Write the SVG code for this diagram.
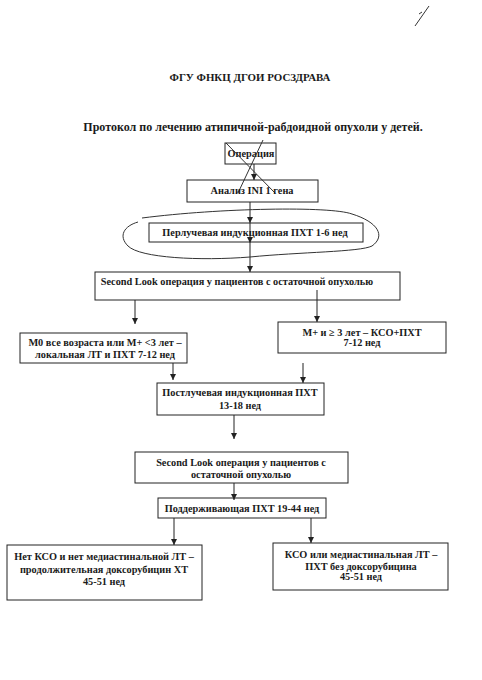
<svg xmlns="http://www.w3.org/2000/svg" width="482" height="680" viewBox="0 0 482 680">
<style>
.box{fill:none;stroke:#222;stroke-width:1}
.t{font-family:"Liberation Serif","Times New Roman",serif;font-weight:bold;font-size:10.3px;fill:#1a1a1a;text-anchor:middle}
.c{fill:none;stroke:#222;stroke-width:1}
.h{fill:none;stroke:#333;stroke-width:1}
</style>
<defs>
<marker id="ar" markerWidth="8" markerHeight="8" refX="6" refY="3" orient="auto" markerUnits="userSpaceOnUse">
<path d="M0,0 L6,3 L0,6 Z" fill="#222"/>
</marker>
</defs>
<rect width="482" height="680" fill="#fff"/>
<path class="h" d="M415,26 L429,6 M419,14 L422,12" stroke-width="1.3"/>
<text x="250" y="81" class="t" style="font-size:10.9px">ФГУ  ФНКЦ  ДГОИ  РОСЗДРАВА</text>
<text x="253" y="131" class="t" style="font-size:12px">Протокол по лечению атипичной-рабдоидной опухоли у детей.</text>

<g id="connectors">
<line class="c" x1="254" y1="164" x2="254" y2="180" marker-end="url(#ar)"/>
<line class="c" x1="250" y1="202" x2="250" y2="223" marker-end="url(#ar)"/>
<line class="c" x1="250" y1="223" x2="250" y2="243" marker-end="url(#ar)"/>
<line class="c" x1="250" y1="243" x2="250" y2="272" marker-end="url(#ar)"/>
<line class="c" x1="135" y1="300" x2="135" y2="324" marker-end="url(#ar)"/>
<line class="c" x1="317" y1="290" x2="317" y2="322" marker-end="url(#ar)"/>
<line class="c" x1="173" y1="363" x2="173" y2="380" marker-end="url(#ar)"/>
<line class="c" x1="303" y1="363" x2="303" y2="383" marker-end="url(#ar)"/>
<line class="c" x1="234" y1="415" x2="234" y2="439" marker-end="url(#ar)"/>
<line class="c" x1="234" y1="483" x2="234" y2="500" marker-end="url(#ar)"/>
<line class="c" x1="174" y1="518" x2="174" y2="545" marker-end="url(#ar)"/>
<line class="c" x1="311" y1="518" x2="311" y2="543" marker-end="url(#ar)"/>
</g>

<g id="n-operation">
<rect class="box" x="225" y="143" width="51" height="21"/>
<text x="251" y="157" class="t">Операция</text>
<line class="h" x1="226" y1="143" x2="275" y2="193"/>
<line class="h" x1="263" y1="140" x2="238" y2="193"/>
</g>
<g id="n-analysis">
<rect class="box" x="187" y="180" width="131" height="22"/>
<text x="252" y="194" class="t">Анализ INI 1 гена</text>
</g>
<g id="n-preradiation">
<rect class="box" x="149" y="223" width="214" height="19"/>
<text x="255" y="236" class="t">Перлучевая индукционная ПХТ 1-6 нед</text>
<path class="h" d="M142,218 C220,208 330,206 352,214 C378,222 386,236 372,246 C360,252 300,252 250,257 C200,261 140,258 128,246 C118,236 124,226 138,222"/>
</g>
<g id="n-secondlook1">
<rect class="box" x="95" y="272" width="305" height="28"/>
<text x="237" y="285" class="t">Second Look операция у пациентов с остаточной опухолью</text>
</g>
<g id="n-m0">
<rect class="box" x="20" y="333" width="167" height="30"/>
<text x="105" y="346" class="t">M0 все возраста или M+ &lt;3 лет –</text>
<text x="105" y="358" class="t">локальная ЛТ и ПХТ 7-12 нед</text>
</g>
<g id="n-mplus">
<rect class="box" x="278" y="322" width="168" height="31"/>
<text x="362" y="336" class="t">M+ и ≥ 3 лет – КСО+ПХТ</text>
<text x="362" y="346" class="t">7-12 нед</text>
</g>
<g id="n-postradiation">
<rect class="box" x="157" y="383" width="167" height="32"/>
<text x="240" y="396" class="t">Постлучевая индукционная ПХТ</text>
<text x="240" y="409" class="t">13-18 нед</text>
</g>
<g id="n-secondlook2">
<rect class="box" x="135" y="452" width="213" height="31"/>
<text x="241" y="466" class="t">Second Look операция у пациентов с</text>
<text x="241" y="478" class="t">остаточной опухолью</text>
</g>
<g id="n-maintenance">
<rect class="box" x="158" y="498" width="168" height="20"/>
<text x="242" y="512" class="t">Поддерживающая ПХТ 19-44 нед</text>
</g>
<g id="n-noksо">
<rect class="box" x="7" y="545" width="195" height="55"/>
<text x="104" y="560" class="t">Нет КСО и нет медиастинальной ЛТ –</text>
<text x="104" y="573" class="t">продолжительная доксорубицин ХТ</text>
<text x="104" y="585" class="t">45-51 нед</text>
</g>
<g id="n-kso">
<rect class="box" x="273" y="543" width="175" height="47"/>
<text x="361" y="558" class="t">КСО или медиастинальная ЛТ –</text>
<text x="361" y="570" class="t">ПХТ без доксорубицина</text>
<text x="361" y="580" class="t">45-51 нед</text>
</g>
</svg>
